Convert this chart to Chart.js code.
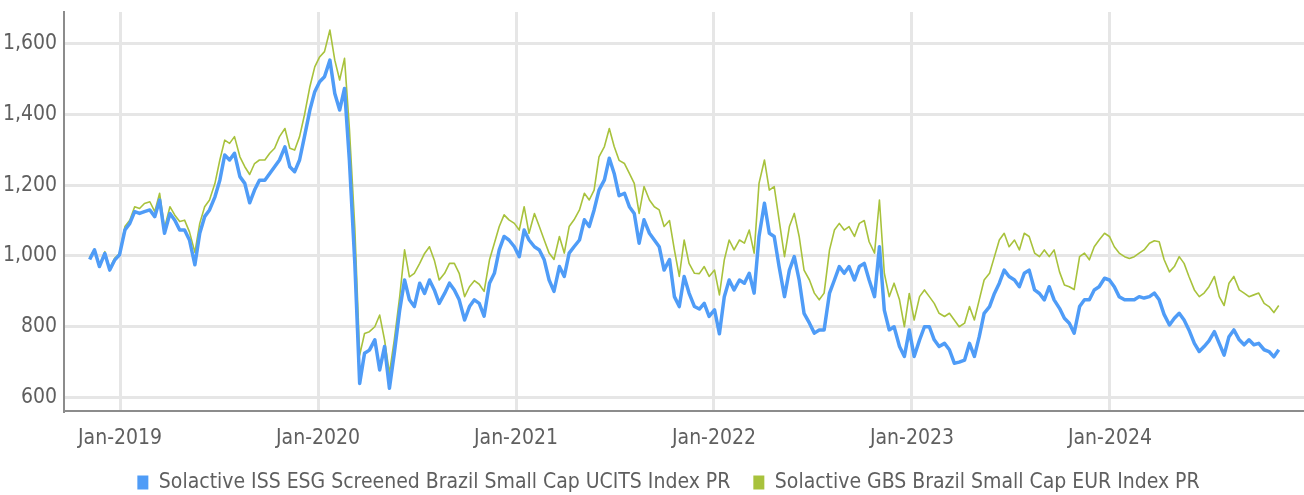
<!DOCTYPE html>
<html>
<head>
<meta charset="utf-8">
<script src="https://cdn.jsdelivr.net/npm/chart.js@4.4.1/dist/chart.umd.min.js"></script>
<style>
html,body{margin:0;padding:0;background:#fff;}
canvas{display:block;}
</style>
</head>
<body>
<canvas id="c" width="1304" height="495"></canvas>
<script>
// ---- data ----
const seriesNames = [
  'Solactive ISS ESG Screened Brazil Small Cap UCITS Index PR',
  'Solactive GBS Brazil Small Cap EUR Index PR'
];
const startDate = '2018-11-06';
const stepDays = 9.22;
const blueValues = [
  990,1017,970,1007,960,988,1003,1073,1092,1125,1120,1125,1130,1111,1158,1064,1120,1101,1073,1073,
  1045,975,1064,1111,1130,1167,1214,1285,1271,1290,1224,1205,1150,1186,1214,1214,1233,1252,1271,1308,
  1252,1238,1271,1337,1412,1464,1492,1506,1553,1459,1412,1473,1270,980,640,725,734,763,678,744,
  626,725,847,932,876,857,923,894,932,904,866,894,923,904,876,819,857,876,866,830,
  923,951,1017,1055,1045,1026,998,1073,1045,1026,1017,989,932,900,970,942,1008,1026,1045,1102,
  1083,1130,1186,1215,1276,1233,1170,1177,1139,1120,1036,1102,1064,1045,1026,960,990,885,857,942,
  895,857,850,866,829,848,780,885,932,904,932,923,951,895,1055,1149,1064,1055,970,885,
  960,998,932,838,810,782,791,791,895,932,970,951,970,932,970,979,932,885,1026,847,
  791,800,744,716,791,716,763,800,800,763,744,753,735,697,700,706,753,716,772,838,
  857,894,923,960,942,932,913,951,960,904,894,876,913,876,852,824,810,782,857,876,
  876,904,913,937,932,913,885,876,876,876,885,881,885,895,876,835,805,824,838,819,
  791,753,730,744,760,786,753,720,772,791,763,749,763,749,753,735,730,715,735
];
const greenValues = [
  996,1019,974,1012,965,993,1007,1083,1101,1139,1134,1148,1153,1125,1177,1078,1139,1115,1097,1101,
  1068,1010,1092,1139,1158,1205,1271,1327,1318,1337,1280,1252,1230,1261,1271,1271,1290,1304,1337,1360,
  1304,1299,1337,1398,1478,1534,1562,1577,1638,1553,1497,1558,1360,1080,720,781,786,800,833,763,
  668,763,885,1017,941,951,979,1007,1026,988,932,951,979,979,951,885,913,930,920,900,
  989,1036,1083,1116,1102,1092,1073,1139,1064,1120,1083,1045,1008,990,1055,1008,1083,1102,1130,1177,
  1158,1186,1280,1309,1360,1309,1270,1261,1233,1205,1120,1196,1158,1139,1130,1083,1100,1017,942,1045,
  979,951,950,970,942,960,890,989,1045,1017,1045,1036,1073,1008,1205,1271,1186,1196,1102,998,
  1083,1120,1055,960,932,895,876,895,1017,1073,1092,1073,1083,1055,1092,1100,1040,1008,1158,951,
  885,923,876,800,894,819,885,904,885,866,838,829,838,819,800,810,857,819,876,932,
  951,998,1045,1064,1026,1045,1017,1064,1055,1008,998,1017,998,1017,955,918,913,905,998,1008,
  989,1026,1045,1064,1055,1026,1008,998,993,998,1008,1017,1036,1043,1040,990,955,970,998,979,
  942,904,885,895,913,942,885,860,923,942,904,895,885,890,895,866,857,840,860
];
const yearTicks = [2019, 2020, 2021, 2022, 2023, 2024];
const xTickLabels = ['Jan-2019','Jan-2020','Jan-2021','Jan-2022','Jan-2023','Jan-2024'];
const yTicks = [600, 800, 1000, 1200, 1400, 1600];
const yTickLabels = ['600','800','1,000','1,200','1,400','1,600'];

// ---- helpers ----
const dates = blueValues.map((_, i) => {
  const d = new Date(Date.parse(startDate + 'T00:00:00Z') + Math.round(i * stepDays) * 864e5);
  return d.toISOString().slice(0, 10);
});
function toYear(s) {
  const d = new Date(s + 'T00:00:00Z');
  const y = d.getUTCFullYear();
  const a = Date.UTC(y, 0, 1), b = Date.UTC(y + 1, 0, 1);
  return y + (d.getTime() - a) / (b - a);
}
const FONT = "'Liberation Sans Narrow', 'DejaVu Sans Condensed', 'Roboto', sans-serif";
const BLUE = '#4f9cf7';
const GREEN = '#a8c23c';
const TXT = '#5f5f5f';

// nudge the legend block slightly right, as in the reference
const legendShift = {
  id: 'legendShift',
  afterLayout(chart) { if (chart.legend) { chart.legend.left += 33; } }
};

new Chart(document.getElementById('c'), {
  type: 'line',
  plugins: [legendShift],
  data: {
    datasets: [
      {
        label: seriesNames[0],
        data: dates.map((d, i) => ({ x: toYear(d), y: blueValues[i] })),
        borderColor: BLUE, backgroundColor: BLUE, borderWidth: 3.5,
        pointRadius: 0, tension: 0, fill: false, borderJoinStyle: 'round'
      },
      {
        label: seriesNames[1],
        data: dates.map((d, i) => ({ x: toYear(d), y: greenValues[i] })),
        borderColor: GREEN, backgroundColor: GREEN, borderWidth: 1.6,
        pointRadius: 0, tension: 0, fill: false, borderJoinStyle: 'round'
      }
    ]
  },
  options: {
    responsive: false,
    animation: false,
    devicePixelRatio: 1,
    layout: { padding: { top: 12, right: 0, left: 0, bottom: -8 } },
    plugins: {
      tooltip: { enabled: false },
      legend: {
        position: 'bottom',
        labels: {
          font: { family: FONT, size: 21 },
          color: TXT,
          boxWidth: 11, boxHeight: 14, padding: 23,
          generateLabels: (chart) => Chart.defaults.plugins.legend.labels.generateLabels(chart)
            .map(l => Object.assign(l, { lineWidth: 0 }))
        }
      }
    },
    scales: {
      x: {
        type: 'linear',
        min: 2018.717, max: 2024.98,
        afterBuildTicks: (s) => { s.ticks = yearTicks.map(v => ({ value: v })); },
        afterFit: (s) => { s.height = 38; s.paddingLeft = 0; s.paddingRight = 0; },
        ticks: {
          autoSkip: false, maxRotation: 0, padding: 15,
          font: { family: FONT, size: 21 }, color: TXT,
          callback: (v) => xTickLabels[yearTicks.indexOf(v)]
        },
        grid: { color: '#e6e6e6', lineWidth: 3, drawTicks: false },
        border: { color: '#8c8c8c', width: 2 }
      },
      y: {
        min: 562, max: 1689,
        afterBuildTicks: (s) => { s.ticks = yTicks.map(v => ({ value: v })); },
        afterFit: (s) => { s.width = 64; s.paddingTop = 0; s.paddingBottom = 0; },
        ticks: {
          padding: 7,
          font: { family: FONT, size: 21 }, color: TXT,
          callback: (v) => yTickLabels[yTicks.indexOf(v)]
        },
        grid: { color: '#e6e6e6', lineWidth: 3, drawTicks: false },
        border: { color: '#8c8c8c', width: 2 }
      }
    }
  }
});
</script>
</body>
</html>
